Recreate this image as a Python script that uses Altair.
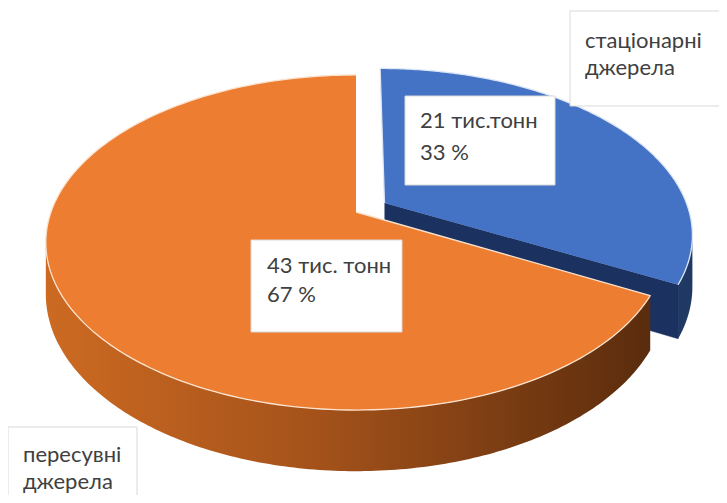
import altair as alt
import pandas as pd

# ---------------- data ----------------
categories = ["стаціонарні джерела", "пересувні джерела"]
values = [21, 43]                      # тис. тонн
amount_labels = ["21 тис.тонн", "43 тис. тонн"]
percent_labels = ["33 %", "67 %"]
name_lines = [["стаціонарні", "джерела"], ["пересувні", "джерела"]]

# ---------------- layout / style ----------------
W, H = 711, 487
CX, CY, RX, RY, P, DEPTH = 348, 204, 305, 162, 0.182, 50
N = 180
EXPLODE = {"стаціонарні джерела": 0.11, "пересувні джерела": 0.0}
TOP_COLOR = {"стаціонарні джерела": "#4472C4", "пересувні джерела": "#ED7D31"}
RIM_COLOR = {"стаціонарні джерела": "#DCE6F5", "пересувні джерела": "#FBE3CF"}
SIDE_FILL = {
    "стаціонарні джерела": "#1F3864",
    "пересувні джерела": alt.Gradient(
        gradient="linear", x1=0, x2=1, y1=0, y2=0,
        stops=[alt.GradientStop(offset=0, color="#CC6A22"),
               alt.GradientStop(offset=0.45, color="#A4521A"),
               alt.GradientStop(offset=1, color="#5A2C0D")]),
}
WALL_COLOR = {"стаціонарні джерела": "#1B3160", "пересувні джерела": "#8A4416"}
FONT = "Lato"
TXT = "#404040"
FS = 22

# boxes (x, x2, y, y2) and text (x, first baseline, second baseline), plot pixels
VAL_BOX = {"стаціонарні джерела": (397, 547, 88, 177, 412, 120, 152),
           "пересувні джерела": (243, 394, 232, 324, 259, 265, 294)}
CAT_BOX = {"стаціонарні джерела": (562, 740, 3, 98, 577, 40, 67),
           "пересувні джерела": (0, 129, 419, 520, 15, 454, 481)}

xs = alt.Scale(domain=[0, W], nice=False, zero=False)
ys = alt.Scale(domain=[0, H], nice=False, zero=False, reverse=True)

df = pd.DataFrame({"name": categories, "value": values, "order": list(range(len(values)))})

ex_expr = " : ".join(f"datum.name === '{k}' ? {v}" for k, v in EXPLODE.items()) + " : 0"

base = (
    alt.Chart(df)
    .transform_joinaggregate(total="sum(value)")
    .transform_window(cum="sum(value)", sort=[alt.SortField("order")], frame=[None, 0])
    .transform_calculate(
        start="(datum.cum - datum.value) / datum.total",
        end="datum.cum / datum.total",
        ex=ex_expr,
    )
    .transform_calculate(mid="PI * (datum.start + datum.end)")
    .transform_calculate(
        exu="datum.ex * sin(datum.mid)",
        exv="-datum.ex * cos(datum.mid)",
    )
)


def project(chart):
    """(U, V) on the unit disc (V toward viewer) -> screen pixels with perspective."""
    return (
        chart.transform_calculate(s=f"1 / (1 - {P} * datum.V)")
        .transform_calculate(
            px=f"{CX} + {RX} * datum.U * datum.s",
            py=f"{CY} + {RY} * datum.V * datum.s",
        )
        .transform_calculate(py2=f"datum.py + {DEPTH} * datum.s")
    )


def enc(chart, with_order=True, y2=False):
    kw = dict(x=alt.X("px:Q", scale=xs, axis=None),
              y=alt.Y("py:Q", scale=ys, axis=None))
    if with_order:
        kw["order"] = alt.Order("step:Q")
    if y2:
        kw["y2"] = "py2:Q"
    return chart.encode(**kw)


def top_face(cat):
    c = (
        base.transform_filter(alt.datum.name == cat)
        .transform_calculate(step=f"sequence(-1, {N + 1})")
        .transform_flatten(["step"])
        .transform_calculate(
            ang=f"2 * PI * (datum.start + (datum.end - datum.start) * max(datum.step, 0) / {N})",
            r="datum.step < 0 ? 0 : 1",
        )
        .transform_calculate(
            U="datum.exu + datum.r * sin(datum.ang)",
            V="datum.exv - datum.r * cos(datum.ang)",
        )
    )
    c = project(c).mark_line(fill=TOP_COLOR[cat], stroke=RIM_COLOR[cat],
                             strokeWidth=1.3, strokeJoin="round")
    return enc(c)


def outer_wall(cat):
    c = (
        base.transform_filter(alt.datum.name == cat)
        .transform_calculate(
            a0=f"max(2 * PI * datum.start, PI / 2 + asin({P}))",
            a1=f"min(2 * PI * datum.end, 3 * PI / 2 - asin({P}))",
        )
        .transform_filter("datum.a1 > datum.a0")
        .transform_calculate(step=f"sequence(0, {N + 1})")
        .transform_flatten(["step"])
        .transform_calculate(ang=f"datum.a0 + (datum.a1 - datum.a0) * datum.step / {N}")
        .transform_calculate(
            U="datum.exu + sin(datum.ang)",
            V="datum.exv - cos(datum.ang)",
        )
    )
    c = project(c).mark_area(color=SIDE_FILL[cat], interpolate="linear")
    return enc(c, with_order=False, y2=True)


def radial_wall(cat):
    # wall along the end edge of an exploded slice, drawn when it faces the viewer
    c = (
        base.transform_filter(alt.datum.name == cat)
        .transform_calculate(ae="2 * PI * datum.end")
        .transform_filter("sin(datum.ae) > 0.001 && datum.ex > 0")
        .transform_calculate(step="sequence(0, 4)")
        .transform_flatten(["step"])
        .transform_calculate(
            r="datum.step == 1 || datum.step == 2 ? 1 : 0",
            low="datum.step >= 2 ? 1 : 0",
        )
        .transform_calculate(
            U="datum.exu + datum.r * sin(datum.ae)",
            V="datum.exv - datum.r * cos(datum.ae)",
        )
    )
    c = project(c).transform_calculate(
        py="datum.low ? datum.py2 : datum.py"
    ).mark_line(fill=WALL_COLOR[cat], stroke=WALL_COLOR[cat], strokeWidth=0.5)
    return enc(c)


# ---------------- labels ----------------
box_rows, text_rows = [], []
for i, cat in enumerate(categories):
    bx, bx2, by, by2, tx, t1, t2 = VAL_BOX[cat]
    box_rows.append({"bx": bx, "bx2": bx2, "by": by, "by2": by2})
    text_rows.append({"t": amount_labels[i], "tx": tx, "ty": t1})
    text_rows.append({"t": percent_labels[i], "tx": tx, "ty": t2})
    bx, bx2, by, by2, tx, t1, t2 = CAT_BOX[cat]
    box_rows.append({"bx": bx, "bx2": bx2, "by": by, "by2": by2})
    text_rows.append({"t": name_lines[i][0], "tx": tx, "ty": t1})
    text_rows.append({"t": name_lines[i][1], "tx": tx, "ty": t2})

boxes = alt.Chart(pd.DataFrame(box_rows)).mark_rect(
    fill="white", stroke="#D9D9D9", strokeWidth=1
).encode(
    x=alt.X("bx:Q", scale=xs, axis=None), x2="bx2:Q",
    y=alt.Y("by:Q", scale=ys, axis=None), y2="by2:Q",
)

texts = alt.Chart(pd.DataFrame(text_rows)).mark_text(
    align="left", baseline="alphabetic", font=FONT, fontSize=FS, color=TXT
).encode(
    x=alt.X("tx:Q", scale=xs, axis=None),
    y=alt.Y("ty:Q", scale=ys, axis=None),
    text="t:N",
)

blue, orange = categories
chart = alt.layer(
    outer_wall(blue), radial_wall(blue), top_face(blue),
    outer_wall(orange), top_face(orange),
    boxes, texts,
).properties(
    width=W, height=H, padding=0, autosize=alt.AutoSizeParams(type="none"),
    background="white",
).configure_view(stroke=None)

chart.save("out.html", embed_options={"renderer": "svg", "actions": False})
